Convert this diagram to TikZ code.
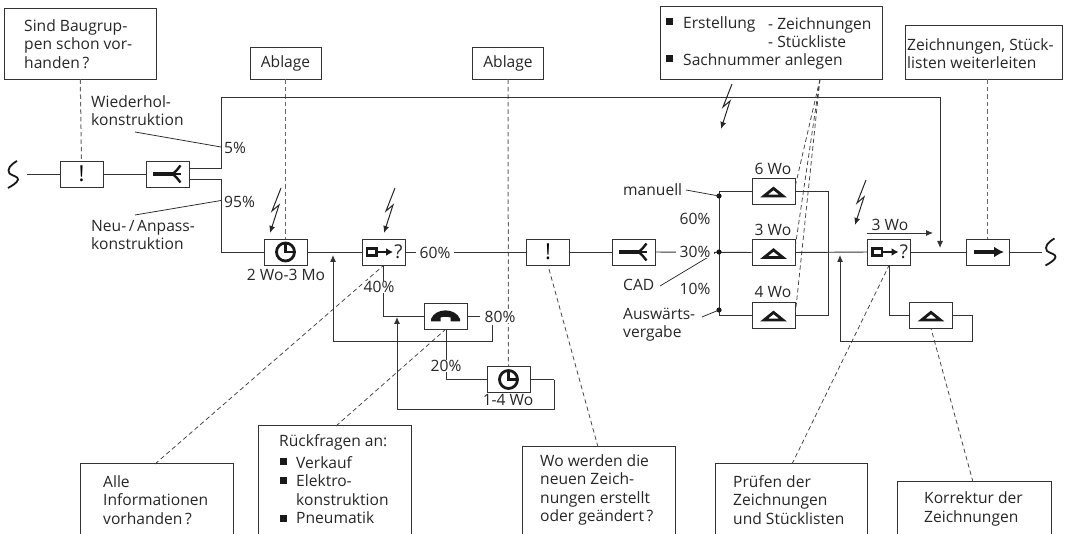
\documentclass[tikz,border=0pt]{standalone}
\usepackage{fontspec}
\setmainfont{Open Sans}
\usetikzlibrary{arrows.meta,calc}
\definecolor{ink}{gray}{0.2}
\tikzset{
  x=1pt,y=-1pt,
  flow/.style={draw=ink,line width=0.95pt},
  proc/.style={draw=ink,line width=0.95pt,fill=white,minimum width=43pt,minimum height=26pt,inner sep=0pt},
  note/.style={draw=ink,line width=0.95pt,fill=white,inner sep=0pt},
  opennote/.style={inner sep=0pt},
  txt/.style={inner sep=0pt,align=left,text=black!85,font=\fontsize{15.6}{18.3}\selectfont},
  pct/.style={txt,fill=white,inner xsep=1pt},
  pctwide/.style={txt,fill=white,inner xsep=4pt},
  arr/.style={flow,-{Latex[length=7pt,width=6pt]}},
  calloutdash/.style={draw=black!75,line width=0.75pt,dash pattern=on 4.5pt off 3pt},
  calloutvert/.style={draw=black!60,line width=1pt,dash pattern=on 4.5pt off 3pt},
  leader/.style={draw=black!85,line width=0.75pt},
  boltline/.style={draw=black!85,line width=1pt,-{Latex[length=7pt,width=6pt]}},
  sq/.style={fill=black!90,inner sep=0pt,minimum size=7pt},
  icon/.style={draw=black!90,line width=2.8pt},
}
\newcommand{\iconfork}[1]{\begin{scope}[shift={(#1)}]
  \draw[black!90,line width=3.4pt] (-14.5,0) -- (5,0);
  \draw[black!90,line width=2.4pt] (3,0) -- (13,0);
  \draw[black!90,line width=2.4pt] (3,0.5) .. controls (8,-1) and (10,-5) .. (13,-8.5);
  \draw[black!90,line width=2.4pt] (3,-0.5) .. controls (8,1) and (10,5) .. (13,8.5);
\end{scope}}
\newcommand{\iconclock}[1]{\begin{scope}[shift={(#1)}]
  \draw[icon] (0,0) circle (9);
  \draw[black!90,line width=2.2pt] (0,-9) -- (0,0) -- (9,0);
\end{scope}}
\newcommand{\icontri}[1]{\begin{scope}[shift={(#1)}]
  \draw[icon,miter limit=10] (0,-2.6) -- (9.4,5) -- (-9.4,5) -- cycle;
\end{scope}}
\newcommand{\iconphone}[1]{\begin{scope}[shift={(#1)}]
  \fill[black!90] (-14.5,5.5) -- (-14.5,3) .. controls (-10,-8.5) and (10,-8.5) .. (14.5,3) -- (14.5,5.5) -- (5,5.5) -- (5,1.5) .. controls (2,0.5) and (-2,0.5) .. (-5,1.5) -- (-5,5.5) -- cycle;
\end{scope}}
\newcommand{\iconcheck}[2]{\begin{scope}[shift={(#1)}]
  \draw[black!90,line width=2.4pt] (-16.5,-3.5) rectangle (-7,3.5);
  \draw[black!90,line width=2pt,-{Latex[length=7pt,width=8pt]}] (-7,0) -- (9.5,0);
  \node[txt,font=\fontsize{19}{20}\selectfont] (#2) at (15,0) {?};
\end{scope}}
\newcommand{\iconarrow}[1]{\begin{scope}[shift={(#1)}]
  \draw[black!90,line width=3.2pt,-{Latex[length=10pt,width=11pt]}] (-13.5,0) -- (16.5,0);
\end{scope}}
\newcommand{\iconwave}[1]{\begin{scope}[shift={(#1)}]
  \draw[black!90,line width=1.8pt] (4.5,-13.5) .. controls (-2,-10) and (-6,-5) .. (-3,-1) .. controls (0,1.5) and (6,2) .. (5.5,5) .. controls (5,8) and (0,11) .. (-4.5,13.5);
\end{scope}}
\newcommand{\boltat}[1]{\draw[boltline] (#1) -- ++(-9,23) -- ++(7,-6) -- ++(-9,28);}
\begin{document}
\begin{tikzpicture}
\useasboundingbox (0,0) rectangle (1065,534);
% --- coordinates used by routes
\coordinate (wL) at (27,174);
\coordinate (wR) at (1042,252);
\coordinate (uS) at (189,168.5);
\coordinate (uK) at (221,168.5);
\coordinate (uT) at (221,97);
\coordinate (uR) at (940,97);
\coordinate (uA) at (940,248);
\coordinate (lS) at (189,179.5);
\coordinate (lK) at (221,179.5);
\coordinate (lB) at (221,252);
\coordinate (a1t) at (333,255);
\coordinate (a1b) at (333,341);
\coordinate (a1r) at (492,341);
\coordinate (a1u) at (492,325);
\coordinate (p80) at (480,316);
\coordinate (k40) at (383.5,316);
\coordinate (a2t) at (397,317);
\coordinate (a2b) at (397,409);
\coordinate (a2r) at (554,409);
\coordinate (a2u) at (554,379.5);
\coordinate (k20) at (446,379.5);
\coordinate (k20u) at (446,329);
\coordinate (d1) at (719,196);
\coordinate (d2) at (719,252);
\coordinate (d3) at (719,310);
\coordinate (rT) at (719,191);
\coordinate (rB) at (719,315);
\coordinate (cT) at (828,191);
\coordinate (cB) at (828,315);
\coordinate (a3t) at (840,255);
\coordinate (a3b) at (840,341);
\coordinate (a3r) at (972,341);
\coordinate (a3u) at (972,315);
\coordinate (k4) at (889,315);
\coordinate (wo3a) at (867,233);
\coordinate (wo3b) at (933,233);
% --- process boxes
\node[proc] (ex1) at (81.5,174) {\fontsize{22}{22}\selectfont !};
\node[proc] (fork1) at (167.5,174) {};
\node[proc] (clock1) at (285.5,252) {};
\node[proc] (check1) at (383.5,252) {};
\node[proc] (phone) at (445.5,316) {};
\node[proc] (clock2) at (508.5,379.5) {};
\node[proc] (ex2) at (548,252) {\fontsize{22}{22}\selectfont !};
\node[proc] (fork2) at (633.5,252) {};
\node[proc] (tri6) at (773.5,191) {};
\node[proc] (tri3) at (773.5,252.5) {};
\node[proc] (tri4) at (773.5,315) {};
\node[proc] (check2) at (889,252) {};
\node[proc] (tri5) at (931,315) {};
\node[proc] (go) at (987.5,252) {};
% --- note boxes
\node[note,minimum width=151.5pt,minimum height=71pt] (nSind) at (80.25,43.5) {};
\node[note,minimum width=71pt,minimum height=32pt] (nAb1) at (285.5,63) {\fontsize{15.6}{18}\selectfont\color{black!85}Ablage};
\node[note,minimum width=71pt,minimum height=32pt] (nAb2) at (508,63) {\fontsize{15.6}{18}\selectfont\color{black!85}Ablage};
\node[note,minimum width=222pt,minimum height=73pt] (nErst) at (771,42.5) {};
\node[note,minimum width=157pt,minimum height=54pt] (nZeich) at (983.5,52) {};
\node[opennote,minimum width=152pt,minimum height=90pt] (nAlle) at (157,509) {};
\node[opennote,minimum width=152pt,minimum height=128pt] (nRueck) at (335,490) {};
\node[opennote,minimum width=152pt,minimum height=107pt] (nWo) at (599,500.5) {};
\node[opennote,minimum width=151pt,minimum height=90pt] (nPruef) at (791.5,509) {};
\node[opennote,minimum width=153pt,minimum height=72pt] (nKorr) at (974.5,518) {};
\foreach \n in {nAlle,nRueck,nWo,nPruef,nKorr}
  \draw[flow] (\n.south west) |- (\n.north east) -- (\n.south east);
% --- dashed call-outs
\draw[calloutvert] (nSind.south) -- (ex1.north);
\draw[calloutvert] (nAb1.south) -- (clock1.north);
\draw[calloutvert] (nAb2.south) -- (clock2.north);
\draw[calloutvert] (nZeich.south -| go.north) -- (go.north);
\coordinate (eOut) at (820,79);
\draw[calloutdash] (eOut) -- (795.5,185);
\draw[calloutdash] (eOut) -- (795.5,245);
\draw[calloutdash] (eOut) -- (795.5,312);
\coordinate (alleT) at (155,464);
\coordinate (rueckT) at (336,426);
\coordinate (woT) at (598,447);
\coordinate (pruefT) at (792,464);
\coordinate (korrT) at (973,482);
\draw[calloutdash] (alleT) -- (check1.south);
\draw[calloutdash] (rueckT) -- (phone.south);
\draw[calloutdash] (woT) -- (ex2.south);
\draw[calloutdash] (pruefT) -- (check2.south);
\draw[calloutdash] (korrT) -- (tri5.south);
% --- flow lines
\draw[flow] (wL) -- (ex1.west);
\draw[flow] (ex1.east) -- (fork1.west);
\draw[arr] (uS) -- (uK) -- (uT) -- (uR) -- (uA);
\draw[flow] (lS) -- (lK) -- (lB) -- (clock1.west);
\draw[flow] (clock1.east) -- (check1.west);
\draw[flow] (check1.east) -- (ex2.west);
\draw[flow] (ex2.east) -- (fork2.west);
\draw[flow] (fork2.east) -- (tri3.west);
\draw[flow] (tri3.east) -- (check2.west);
\draw[flow] (check2.east) -- (go.west);
\draw[flow] (go.east) -- (wR);
\draw[flow] (check1.south) -- (k40) -- (phone.west);
\draw[flow] (phone.east) -- (p80);
\draw[arr] (a1u) -- (a1r) -- (a1b) -- (a1t);
\draw[arr] (a2u) -- (a2r) -- (a2b) -- (a2t);
\draw[flow] (clock2.east) -- (a2u);
\draw[flow] (clock2.west) -- (k20) -- (k20u);
\draw[flow] (tri6.west) -- (rT) -- (rB) -- (tri4.west);
\draw[flow] (tri6.east) -- (cT) -- (cB) -- (tri4.east);
\draw[arr] (a3u) -- (a3r) -- (a3b) -- (a3t);
\draw[flow] (tri5.east) -- (a3u);
\draw[flow] (check2.south) -- (k4) -- (tri5.west);
\draw[arr,line width=0.9pt] (wo3a) -- (wo3b);
\foreach \d in {d1,d2,d3} \fill[black!90] (\d) circle (2.6);
% --- leaders
\coordinate (lWa) at (135,132); \coordinate (lWb) at (221,147);
\coordinate (lNa) at (135,215); \coordinate (lNb) at (221,200.5);
\coordinate (lMa) at (686,190);
\coordinate (lCa) at (660,286); \coordinate (lCb) at (715,253);
\coordinate (lAa) at (702,317);
\draw[leader] (lWa) -- (lWb);
\draw[leader] (lNa) -- (lNb);
\draw[leader] (lMa) -- (d1);
\draw[leader] (lCa) -- (lCb);
\draw[leader] (lAa) -- (d3);
% --- lightning
\coordinate (b1) at (281,188); \coordinate (b2) at (395,188);
\coordinate (b3) at (732,84); \coordinate (b4) at (866,180);
\boltat{b1}\boltat{b2}\boltat{b3}\boltat{b4}
% --- icons
\iconwave{12.5,174.5}
\iconwave{1050,252}
\iconfork{fork1}
\iconfork{fork2}
\iconclock{clock1}
\iconclock{clock2}
\iconcheck{check1}{qA}
\iconcheck{check2}{qB}
\iconphone{phone}
\icontri{tri6}
\icontri{tri3}
\icontri{tri4}
\icontri{tri5}
\iconarrow{go}
% --- labels
\node[txt,anchor=west] (tSind) at (24,44) {Sind Baugrup-\\pen schon vor-\\handen\,?};
\node[txt,anchor=west] (tWieder) at (91,111) {Wiederhol-\\konstruktion};
\node[txt,anchor=west] (tNeu) at (91,235) {Neu-\,/\,Anpass-\\konstruktion};
\node[txt,anchor=west] (t5) at (224,148) {5\%};
\node[txt,anchor=west] (t95) at (224,202) {95\%};
\node[txt] (t2Wo) at (286,275) {2 Wo-3 Mo};
\node[pct] (t40) at (379,287) {40\%};
\node[pctwide] (t60a) at (435,253) {60\%};
\node[pct] (t80) at (500,317) {80\%};
\node[pct] (t20) at (446,366) {20\%};
\node[txt] (t14) at (508,400) {1-4 Wo};
\node[txt] (t60b) at (695,219) {60\%};
\node[pctwide] (t30) at (695,252) {30\%};
\node[txt] (t10) at (695,289) {10\%};
\node[txt,anchor=west] (tMan) at (623,190) {manuell};
\node[txt,anchor=west] (tCAD) at (623,285) {CAD};
\node[txt,anchor=west] (tAus) at (623,325) {Auswärts-\\vergabe};
\node[txt] (t6W) at (773,169) {6 Wo};
\node[txt] (t3W) at (773,230) {3 Wo};
\node[txt] (t4W) at (773,292) {4 Wo};
\node[txt] (t3Wb) at (890,225) {3 Wo};
\node[sq] (bE1) at (669.5,22) {};
\node[sq] (bE2) at (669.5,59) {};
\node[txt,anchor=west] (tE1) at (683,24) {Erstellung};
\node[txt,anchor=west] (tE2) at (768,33) {- Zeichnungen\\- Stückliste};
\node[txt,anchor=west] (tE3) at (683,61) {Sachnummer anlegen};
\node[txt,anchor=west] (tZ) at (907,53.5) {Zeichnungen, Stück-\\listen weiterleiten};
\node[txt,anchor=west] (tAlle) at (103,500) {Alle\\Informationen\\vorhanden\,?};
\node[txt,anchor=west] (tR0) at (279,442) {Rückfragen an:};
\node[sq] (bR1) at (283,461) {};
\node[sq] (bR2) at (283,480) {};
\node[sq] (bR3) at (283,518) {};
\node[txt,anchor=west] (tR1) at (296,490) {Verkauf\\Elektro-\\konstruktion\\Pneumatik};
\node[txt,anchor=west] (tWo) at (540,490) {Wo werden die\\neuen Zeich-\\nungen erstellt\\oder geändert\,?};
\node[txt,anchor=west] (tP) at (733,500) {Prüfen der\\Zeichnungen\\und Stücklisten};
\node[txt,anchor=west] (tK) at (924,509) {Korrektur der\\Zeichnungen};
\end{tikzpicture}
\end{document}
